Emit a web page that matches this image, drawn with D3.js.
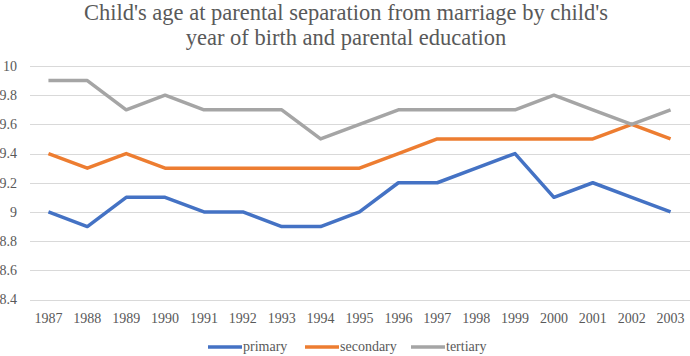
<!DOCTYPE html>
<html>
<title>Child's age at parental separation</title>
<style>
  body {
    margin: 0px;
    background: #fff;
  }
  svg text {
    font-family: "Liberation Serif", "Times New Roman", serif;
    fill: #595959;
  }
  .grid line {
    stroke: #d9d9d9;
    stroke-width: 1;
  }
  .series {
    fill: none;
    stroke-width: 3.5;
    stroke-linejoin: round;
  }
</style>
<script src="https://cdn.jsdelivr.net/npm/d3@7"></script>
<body>
<svg width="690" height="356"></svg>
<script>

const years = ["1987", "1988", "1989", "1990", "1991", "1992", "1993", "1994", "1995",
  "1996", "1997", "1998", "1999", "2000", "2001", "2002", "2003"];
const primary   = [9.0, 8.9, 9.1, 9.1, 9.0, 9.0, 8.9, 8.9, 9.0, 9.2, 9.2, 9.3, 9.4, 9.1, 9.2, 9.1, 9.0];
const secondary = [9.4, 9.3, 9.4, 9.3, 9.3, 9.3, 9.3, 9.3, 9.3, 9.4, 9.5, 9.5, 9.5, 9.5, 9.5, 9.6, 9.5];
const tertiary  = [9.9, 9.9, 9.7, 9.8, 9.7, 9.7, 9.7, 9.5, 9.6, 9.7, 9.7, 9.7, 9.7, 9.8, 9.7, 9.6, 9.7];
const yTicks = [8.4, 8.6, 8.8, 9, 9.2, 9.4, 9.6, 9.8, 10];
const seriesNames = ["primary", "secondary", "tertiary"];
const colors = ["#4472C4", "#ED7D31", "#A5A5A5"];
const titleLines = ["Child's age at parental separation from marriage by child's",
  "year of birth and parental education"];

const series = [primary, secondary, tertiary];
const svg = d3.select("svg");
const font = "'Liberation Serif', 'Times New Roman', serif";

// scales
const x = d3.scaleBand()
    .domain(years)
    .range([29, 690]);

const y = d3.scaleLinear()
    .domain([8.4, 10])
    .range([299.5, 66]);

// title
svg.append("g")
  .selectAll("text")
  .data(titleLines)
  .join("text")
    .attr("x", 346)
    .attr("y", (d, i) => 19.5 + i * 25)
    .attr("text-anchor", "middle")
    .attr("font-family", font)
    .style("font-size", "22.5px")
    .text(d => d);

// gridlines
svg.append("g")
    .attr("class", "grid")
  .selectAll("line")
  .data(yTicks)
  .join("line")
    .attr("x1", 30)
    .attr("x2", 690)
    .attr("y1", d => Math.round(y(d)) + 0.5)
    .attr("y2", d => Math.round(y(d)) + 0.5);

// y axis labels
svg.append("g")
  .selectAll("text")
  .data(yTicks)
  .join("text")
    .attr("x", 17)
    .attr("y", d => y(d))
    .attr("dy", "0.35em")
    .attr("text-anchor", "end")
    .attr("font-family", font)
    .style("font-size", "14px")
    .text(d => d3.format("")(d));

// x axis labels
svg.append("g")
  .selectAll("text")
  .data(years)
  .join("text")
    .attr("x", d => x(d) + x.bandwidth() / 2)
    .attr("y", 322.5)
    .attr("text-anchor", "middle")
    .attr("font-family", font)
    .style("font-size", "14px")
    .text(d => d);

// lines
const line = d3.line()
    .x((d, i) => x(years[i]) + x.bandwidth() / 2)
    .y(d => y(d));

svg.append("g")
  .selectAll("path")
  .data(series)
  .join("path")
    .attr("class", "series")
    .attr("stroke", (d, i) => colors[i])
    .attr("d", line);

// legend
const legendX = [208, 305, 411];
const legend = svg.append("g")
  .selectAll("g")
  .data(seriesNames)
  .join("g")
    .attr("transform", (d, i) => `translate(${legendX[i]},347)`);

legend.append("line")
    .attr("x1", 0)
    .attr("x2", 34)
    .attr("stroke", (d, i) => colors[i])
    .attr("stroke-width", 3.5);

legend.append("text")
    .attr("x", 35)
    .attr("y", 4)
    .attr("font-family", font)
    .style("font-size", "14px")
    .text(d => d);
</script>
</body>
</html>
